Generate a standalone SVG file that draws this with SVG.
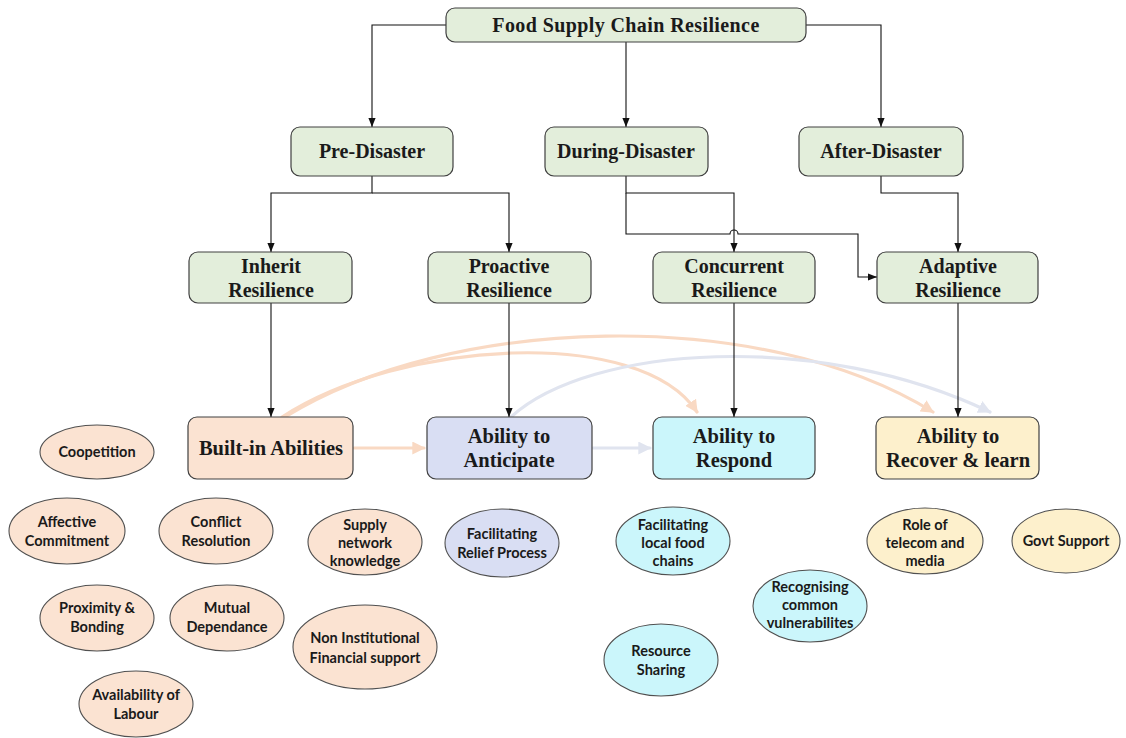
<svg xmlns="http://www.w3.org/2000/svg" width="1126" height="738" viewBox="0 0 1126 738">
  <defs>
    <marker id="arrow" viewBox="0 0 10 8" refX="10" refY="4" markerWidth="9" markerHeight="7.5" markerUnits="userSpaceOnUse" orient="auto">
      <path d="M0,0 L10,4 L0,8 z" fill="#111"/>
    </marker>
    <marker id="arrow-peach" viewBox="0 0 10 10" refX="9" refY="5" markerWidth="13" markerHeight="13" markerUnits="userSpaceOnUse" orient="auto">
      <path d="M0,0 L10,5 L0,10 z" fill="#f9d9c3"/>
    </marker>
    <marker id="arrow-grey" viewBox="0 0 10 10" refX="9" refY="5" markerWidth="13" markerHeight="13" markerUnits="userSpaceOnUse" orient="auto">
      <path d="M0,0 L10,5 L0,10 z" fill="#e0e4ef"/>
    </marker>
    <style>
      .box { stroke: #404040; stroke-width: 1.2; }
      .green { fill: #e3eedb; }
      .peach { fill: #fbe3d2; }
      .lav { fill: #d9def3; }
      .cyan { fill: #cbf6fb; }
      .yellow { fill: #fdf0cc; }
      .ell { stroke: #505050; stroke-width: 1.1; }
      .t { font-family: "Liberation Serif", "Times New Roman", serif; font-weight: bold; fill: #1a1a1a; text-anchor: middle; }
      .t1 { font-size: 20px; }
      .t2 { font-size: 20.5px; }
      .e { font-family: Lato, "Open Sans", sans-serif; font-weight: bold; font-size: 14.5px; fill: #1a1a1a; text-anchor: middle; }
      .conn { fill: none; stroke: #111; stroke-width: 1.1; }
      .soft { fill: none; stroke-width: 3.2; stroke-linecap: round; }
    </style>
  </defs>

  <!-- soft relationship arrows between ability boxes -->
  <g id="soft-connectors">
    <path class="soft" stroke="#f9d9c3" d="M285,417 C 450,315 760,305 933,412" marker-end="url(#arrow-peach)"/>
    <path class="soft" stroke="#f9d9c3" d="M282,417 C 400,340 640,325 697,412" marker-end="url(#arrow-peach)"/>
    <path class="soft" stroke="#e0e4ef" d="M511,417 C 590,345 820,330 990,412" marker-end="url(#arrow-grey)"/>
    <path class="soft" stroke="#f9d9c3" d="M354,448 H424" marker-end="url(#arrow-peach)"/>
    <path class="soft" stroke="#e0e4ef" d="M593,448 H650" marker-end="url(#arrow-grey)"/>
  </g>

  <!-- hierarchy connectors -->
  <g id="connectors">
    <path class="conn" d="M446,25 H372 V127" marker-end="url(#arrow)"/>
    <path class="conn" d="M626,42 V127" marker-end="url(#arrow)"/>
    <path class="conn" d="M806,25 H881 V127" marker-end="url(#arrow)"/>
    <path class="conn" d="M372,176 V193 H271 V252" marker-end="url(#arrow)"/>
    <path class="conn" d="M372,193 H509 V252" marker-end="url(#arrow)"/>
    <path class="conn" d="M626,176 V193 H734 V252" marker-end="url(#arrow)"/>
    <path class="conn" d="M626,193 V234 H730 A4,4 0 0 1 738,234 H858 V277 H877" marker-end="url(#arrow)"/>
    <path class="conn" d="M881,176 V193 H958 V252" marker-end="url(#arrow)"/>
    <path class="conn" d="M271,303 V417" marker-end="url(#arrow)"/>
    <path class="conn" d="M509,303 V417" marker-end="url(#arrow)"/>
    <path class="conn" d="M734,303 V417" marker-end="url(#arrow)"/>
    <path class="conn" d="M958,303 V417" marker-end="url(#arrow)"/>
  </g>

  <!-- level 1 -->
  <g id="food-supply-chain-resilience">
    <rect class="box green" x="446" y="8" width="360" height="34" rx="9"/>
    <text class="t t1" x="626" y="32" letter-spacing="0.4">Food Supply Chain Resilience</text>
  </g>

  <!-- level 2 -->
  <g id="pre-disaster">
    <rect class="box green" x="291" y="127" width="162" height="49" rx="9"/>
    <text class="t t1" x="372" y="158">Pre-Disaster</text>
  </g>
  <g id="during-disaster">
    <rect class="box green" x="545" y="127" width="163" height="49" rx="9"/>
    <text class="t t1" x="626" y="158">During-Disaster</text>
  </g>
  <g id="after-disaster">
    <rect class="box green" x="799" y="127" width="164" height="49" rx="9"/>
    <text class="t t1" x="881" y="158">After-Disaster</text>
  </g>

  <!-- level 3 -->
  <g id="inherit-resilience">
    <rect class="box green" x="189" y="252" width="163" height="51" rx="9"/>
    <text class="t t1" x="271" y="273">Inherit</text>
    <text class="t t1" x="271" y="297">Resilience</text>
  </g>
  <g id="proactive-resilience">
    <rect class="box green" x="428" y="252" width="163" height="51" rx="9"/>
    <text class="t t1" x="509" y="273">Proactive</text>
    <text class="t t1" x="509" y="297">Resilience</text>
  </g>
  <g id="concurrent-resilience">
    <rect class="box green" x="653" y="252" width="162" height="51" rx="9"/>
    <text class="t t1" x="734" y="273">Concurrent</text>
    <text class="t t1" x="734" y="297">Resilience</text>
  </g>
  <g id="adaptive-resilience">
    <rect class="box green" x="877" y="252" width="161" height="51" rx="9"/>
    <text class="t t1" x="958" y="273">Adaptive</text>
    <text class="t t1" x="958" y="297">Resilience</text>
  </g>

  <!-- level 4 -->
  <g id="built-in-abilities">
    <rect class="box peach" x="188" y="417" width="165" height="62" rx="9"/>
    <text class="t t2" x="271" y="455">Built-in Abilities</text>
  </g>
  <g id="ability-to-anticipate">
    <rect class="box lav" x="427" y="417" width="165" height="62" rx="9"/>
    <text class="t t2" x="509" y="443">Ability to</text>
    <text class="t t2" x="509" y="467">Anticipate</text>
  </g>
  <g id="ability-to-respond">
    <rect class="box cyan" x="653" y="417" width="162" height="62" rx="9"/>
    <text class="t t2" x="734" y="443">Ability to</text>
    <text class="t t2" x="734" y="467">Respond</text>
  </g>
  <g id="ability-to-recover">
    <rect class="box yellow" x="876" y="417" width="163" height="62" rx="9"/>
    <text class="t t2" x="958" y="443">Ability to</text>
    <text class="t t2" x="958" y="467">Recover &amp; learn</text>
  </g>

  <!-- factor ellipses -->
  <g id="coopetition">
    <ellipse class="ell peach" cx="97" cy="452" rx="57" ry="27"/>
    <text class="e" x="97" y="457">Coopetition</text>
  </g>
  <g id="affective-commitment">
    <ellipse class="ell peach" cx="67" cy="531" rx="58" ry="33"/>
    <text class="e" x="67" y="527">Affective</text>
    <text class="e" x="67" y="546">Commitment</text>
  </g>
  <g id="conflict-resolution">
    <ellipse class="ell peach" cx="216" cy="531" rx="57" ry="33"/>
    <text class="e" x="216" y="527">Conflict</text>
    <text class="e" x="216" y="546">Resolution</text>
  </g>
  <g id="supply-network-knowledge">
    <ellipse class="ell peach" cx="365" cy="542" rx="57" ry="33"/>
    <text class="e" x="365" y="530">Supply</text>
    <text class="e" x="365" y="548">network</text>
    <text class="e" x="365" y="566">knowledge</text>
  </g>
  <g id="proximity-bonding">
    <ellipse class="ell peach" cx="97" cy="618" rx="57" ry="33"/>
    <text class="e" x="97" y="613">Proximity &amp;</text>
    <text class="e" x="97" y="632">Bonding</text>
  </g>
  <g id="mutual-dependance">
    <ellipse class="ell peach" cx="227" cy="618" rx="57" ry="33"/>
    <text class="e" x="227" y="613">Mutual</text>
    <text class="e" x="227" y="632">Dependance</text>
  </g>
  <g id="non-institutional-financial-support">
    <ellipse class="ell peach" cx="365" cy="647" rx="72" ry="42"/>
    <text class="e" x="365" y="643">Non Institutional</text>
    <text class="e" x="365" y="663">Financial support</text>
  </g>
  <g id="availability-of-labour">
    <ellipse class="ell peach" cx="136" cy="704" rx="57" ry="33"/>
    <text class="e" x="136" y="700">Availability of</text>
    <text class="e" x="136" y="719">Labour</text>
  </g>
  <g id="facilitating-relief-process">
    <ellipse class="ell lav" cx="502" cy="543" rx="57" ry="34"/>
    <text class="e" x="502" y="539">Facilitating</text>
    <text class="e" x="502" y="558">Relief Process</text>
  </g>
  <g id="facilitating-local-food-chains">
    <ellipse class="ell cyan" cx="673" cy="541" rx="57" ry="34"/>
    <text class="e" x="673" y="530">Facilitating</text>
    <text class="e" x="673" y="548">local food</text>
    <text class="e" x="673" y="566">chains</text>
  </g>
  <g id="recognising-common-vulnerabilites">
    <ellipse class="ell cyan" cx="810" cy="606" rx="57" ry="36"/>
    <text class="e" x="810" y="592">Recognising</text>
    <text class="e" x="810" y="610">common</text>
    <text class="e" x="810" y="628">vulnerabilites</text>
  </g>
  <g id="resource-sharing">
    <ellipse class="ell cyan" cx="661" cy="660" rx="57" ry="36"/>
    <text class="e" x="661" y="656">Resource</text>
    <text class="e" x="661" y="675">Sharing</text>
  </g>
  <g id="role-of-telecom-and-media">
    <ellipse class="ell yellow" cx="925" cy="541" rx="58" ry="33"/>
    <text class="e" x="925" y="530">Role of</text>
    <text class="e" x="925" y="548">telecom and</text>
    <text class="e" x="925" y="566">media</text>
  </g>
  <g id="govt-support">
    <ellipse class="ell yellow" cx="1066" cy="541" rx="54" ry="32"/>
    <text class="e" x="1066" y="546">Govt Support</text>
  </g>
</svg>
